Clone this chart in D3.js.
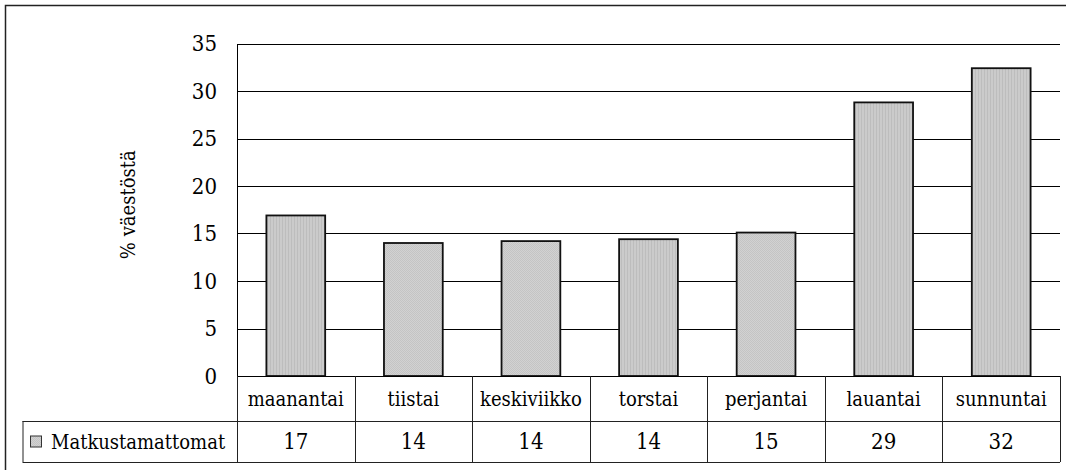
<!DOCTYPE html>
<html>
<head>
<meta charset="utf-8">
<script src="https://cdn.jsdelivr.net/npm/d3@7"></script>
<style>
  html, body { margin: 0; padding: 0; background: #fff; }
  svg { display: block; }
  svg text { font-family: "DejaVu Serif Condensed", "DejaVu Serif", serif; font-stretch: condensed; }
</style>
</head>
<body>
<svg id="chart" width="1066" height="470"></svg>
<script>
// Weekday categories and share of population not travelling (%)
const days = ["maanantai", "tiistai", "keskiviikko", "torstai", "perjantai", "lauantai", "sunnuntai"];
const values = [16.9, 14.0, 14.2, 14.4, 15.1, 28.8, 32.4];
const seriesName = "Matkustamattomat";
const yTicks = [0, 5, 10, 15, 20, 25, 30, 35];
const yTitle = "% väestöstä";

const svg = d3.select("#chart");
const W = 1066, H = 470;

const plot = { left: 237, right: 1060, top: 43.5, bottom: 376 };
const catRowH = 45;         // category-name row of the table
const valRowH = 41;         // value row of the table
const legendLeft = 22.5;    // left edge of the series-name cell

// Fill textures for the bars
const defs = svg.append("defs");
const stripes = defs.append("pattern").attr("id", "fillA")
  .attr("patternUnits", "userSpaceOnUse").attr("width", 3).attr("height", 3);
stripes.append("rect").attr("width", 3).attr("height", 3).attr("fill", "#cbcbcb");
stripes.append("rect").attr("width", 1).attr("height", 3).attr("fill", "#bdbdbd");
const dots = defs.append("pattern").attr("id", "fillB")
  .attr("patternUnits", "userSpaceOnUse").attr("width", 2).attr("height", 2);
dots.append("rect").attr("width", 2).attr("height", 2).attr("fill", "#d2d2d2");
dots.append("rect").attr("width", 1).attr("height", 1).attr("fill", "#c4c4c4");
dots.append("rect").attr("x", 1).attr("y", 1).attr("width", 1).attr("height", 1).attr("fill", "#c4c4c4");
const fillFor = i => (i === 1 || i === 2 || i === 4) ? "url(#fillB)" : "url(#fillA)";

// Outer frame
svg.append("rect")
  .attr("x", 5.5).attr("y", 5.5).attr("width", W).attr("height", H)
  .attr("fill", "none").attr("stroke", "#222").attr("stroke-width", 1.5);

const x = d3.scaleBand().domain(days)
  .range([plot.left, plot.right]).paddingInner(0.5).paddingOuter(0.25);
const y = d3.scaleLinear().domain([0, 35]).range([plot.bottom, plot.top]);

// Horizontal gridlines
svg.append("g").selectAll("line")
  .data(yTicks.filter(t => t > 0))
  .join("line")
  .attr("x1", plot.left).attr("x2", plot.right)
  .attr("y1", d => Math.round(y(d)) + 0.5).attr("y2", d => Math.round(y(d)) + 0.5)
  .attr("stroke", "#000").attr("stroke-width", 1);

// Value axis labels
const yAxis = d3.axisLeft(y).tickValues(yTicks).tickSize(0).tickPadding(20);
const gy = svg.append("g").attr("transform", `translate(${plot.left},0)`).call(yAxis);
gy.attr("font-family", null);
gy.select(".domain").remove();
gy.selectAll("text")
  .attr("font-size", 22).attr("fill", "#000");

// Left edge of plot
svg.append("line")
  .attr("x1", plot.left + 0.5).attr("x2", plot.left + 0.5)
  .attr("y1", Math.round(plot.top) + 0.5).attr("y2", plot.bottom)
  .attr("stroke", "#000").attr("stroke-width", 1);

// Axis title
svg.append("text")
  .attr("transform", `translate(135,${(plot.top + plot.bottom) / 2 - 5}) rotate(-90)`)
  .attr("text-anchor", "middle")
  .attr("font-size", 20).attr("fill", "#000")
  .text(yTitle);

// Bars
svg.append("g").selectAll("rect")
  .data(values)
  .join("rect")
  .attr("x", (d, i) => x(days[i]))
  .attr("width", x.bandwidth())
  .attr("y", d => y(d))
  .attr("height", d => y(0) - y(d))
  .attr("fill", (d, i) => fillFor(i))
  .attr("stroke", "#111").attr("stroke-width", 1.8);

// Data table under the plot
const step = x.step();
const colLeft = d => x(d) - x.paddingInner() * step / 2;
const row1Top = plot.bottom, row2Top = plot.bottom + catRowH, row2Bot = row2Top + valRowH;
const table = svg.append("g").attr("stroke", "#222").attr("stroke-width", 1).attr("fill", "none");

table.append("line").attr("x1", plot.left).attr("x2", plot.right)
  .attr("y1", row1Top + 0.5).attr("y2", row1Top + 0.5).attr("stroke", "#000");
table.append("line").attr("x1", legendLeft).attr("x2", plot.right)
  .attr("y1", row2Top + 0.5).attr("y2", row2Top + 0.5);
table.append("line").attr("x1", legendLeft).attr("x2", plot.right)
  .attr("y1", row2Bot + 0.5).attr("y2", row2Bot + 0.5);
table.append("line").attr("x1", legendLeft + 0.5).attr("x2", legendLeft + 0.5)
  .attr("y1", row2Top).attr("y2", row2Bot);
table.selectAll("line.col")
  .data(days)
  .join("line").attr("class", "col")
  .attr("x1", d => Math.round(colLeft(d)) + 0.5).attr("x2", d => Math.round(colLeft(d)) + 0.5)
  .attr("y1", row1Top).attr("y2", row2Bot);
table.append("line")
  .attr("x1", plot.right + 0.5).attr("x2", plot.right + 0.5)
  .attr("y1", row1Top).attr("y2", row2Bot);

// Category names
svg.append("g").selectAll("text")
  .data(days)
  .join("text")
  .attr("x", d => x(d) + x.bandwidth() / 2)
  .attr("y", row1Top + catRowH / 2)
  .attr("dy", "0.35em")
  .attr("text-anchor", "middle")
  .attr("font-size", 20).attr("fill", "#000")
  .text(d => d);

// Values row
const fmt = d3.format(".0f");
svg.append("g").selectAll("text")
  .data(values)
  .join("text")
  .attr("x", (d, i) => x(days[i]) + x.bandwidth() / 2)
  .attr("y", row2Top + valRowH / 2)
  .attr("dy", "0.35em")
  .attr("text-anchor", "middle")
  .attr("font-size", 22).attr("fill", "#000")
  .text(d => fmt(d));

// Series key in the table
svg.append("rect")
  .attr("x", 30.5).attr("y", row2Top + valRowH / 2 - 5.5)
  .attr("width", 11).attr("height", 11)
  .attr("fill", "url(#fillB)").attr("stroke", "#333").attr("stroke-width", 1);
svg.append("text")
  .attr("x", 51).attr("y", row2Top + valRowH / 2)
  .attr("dy", "0.35em")
  .attr("font-size", 20).attr("fill", "#000")
  .text(seriesName);
</script>
</body>
</html>
